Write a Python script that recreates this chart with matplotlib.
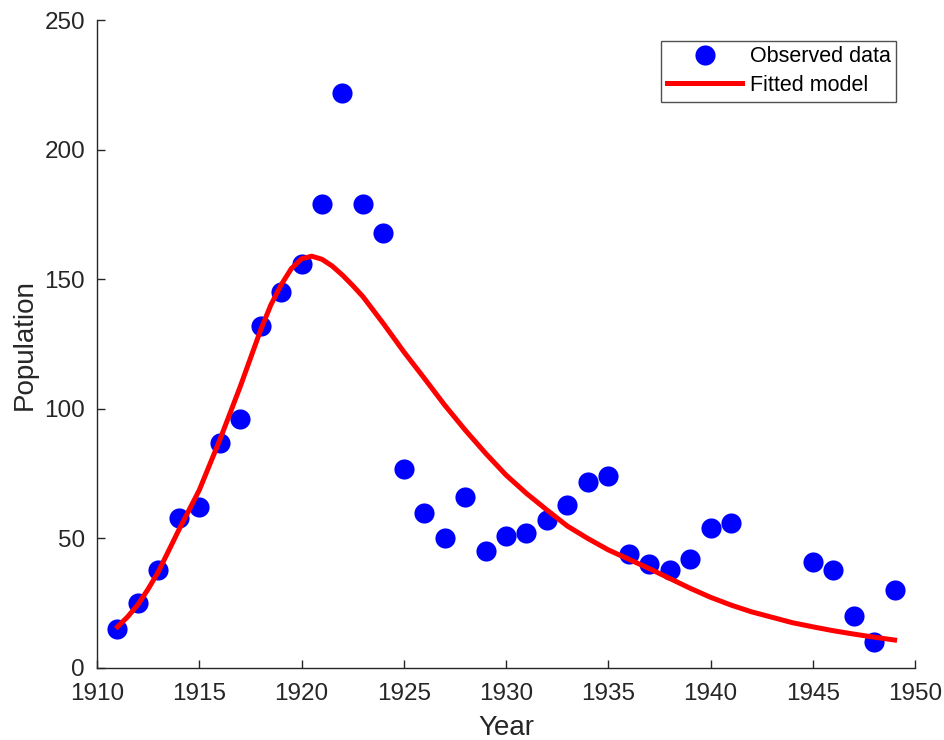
import numpy as np
import matplotlib
matplotlib.use("Agg")
import matplotlib.pyplot as plt

years = [1911, 1912, 1913, 1914, 1915, 1916, 1917, 1918, 1919, 1920,
         1921, 1922, 1923, 1924, 1925, 1926, 1927, 1928, 1929, 1930,
         1931, 1932, 1933, 1934, 1935, 1936, 1937, 1938, 1939, 1940,
         1941, 1945, 1946, 1947, 1948, 1949]
population = [15, 25, 38, 58, 62, 87, 96, 132, 145, 156,
              179, 222, 179, 168, 77, 60, 50, 66, 45, 51,
              52, 57, 63, 72, 74, 44, 40, 38, 42, 54,
              56, 41, 38, 20, 10, 30]

# fitted curve
fit_years = [1911, 1911.5, 1912, 1912.5, 1913, 1914, 1915, 1916, 1917, 1918,
             1918.5, 1919, 1919.5, 1920, 1920.5, 1921, 1921.5, 1922, 1922.5, 1923,
             1924, 1925, 1926, 1927, 1928, 1929, 1930, 1931, 1932, 1933,
             1934, 1935, 1936, 1937, 1938, 1939, 1940, 1941, 1942, 1943,
             1944, 1945, 1946, 1947, 1948, 1949]
fit_values = [15.9, 19.8, 24.5, 30.5, 37.2, 53.3, 68.7, 88, 108.6, 130.5,
              140.2, 147.9, 154.2, 158.0, 159.0, 157.8, 155.2, 151.7, 147.7, 143.4,
              133, 122.1, 111.9, 101.5, 91.9, 82.9, 74.5, 67.4, 61, 54.8,
              50, 45.6, 42.0, 38.4, 34.6, 30.8, 27.3, 24.3, 21.7, 19.6,
              17.5, 15.9, 14.4, 13.1, 11.9, 10.8]

plt.rcParams['font.family'] = ['Liberation Sans', 'DejaVu Sans']
grey = '#262626'

fig = plt.figure(figsize=(9.44, 7.40), dpi=100)
ax = fig.add_axes([0.1028, 0.0973, 0.8665, 0.875])

ax.plot(years, population, 'o', color='#0000ff', markersize=14.5,
        markeredgewidth=0, label='Observed data')
ax.plot(fit_years, fit_values, '-', color='#ff0000', linewidth=3.6,
        solid_joinstyle='round', label='Fitted model')

ax.set_xlim(1910, 1950)
ax.set_ylim(0, 250)
ax.set_xticks(np.arange(1910, 1951, 5))
ax.set_yticks(np.arange(0, 251, 50))

for s in ['top', 'right']:
    ax.spines[s].set_visible(False)
for s in ['left', 'bottom']:
    ax.spines[s].set_color(grey)
    ax.spines[s].set_linewidth(1.0)

ax.tick_params(direction='in', length=6, width=1.0, colors=grey,
               labelsize=17.5)
ax.tick_params(axis='x', pad=11)
ax.tick_params(axis='y', pad=8.6)
ax.set_xlabel('Year', fontsize=20, color=grey, labelpad=7)
ax.set_ylabel('Population', fontsize=20, color=grey, labelpad=5)

leg = ax.legend(loc='upper right', bbox_to_anchor=(0.977, 0.969),
                fontsize=15.5, frameon=True, fancybox=False,
                edgecolor=grey, handlelength=3.5, borderpad=0.27,
                labelspacing=0.35, handletextpad=0.33, borderaxespad=0)
leg.get_frame().set_linewidth(1.0)

fig.savefig('out.png', dpi=100)
